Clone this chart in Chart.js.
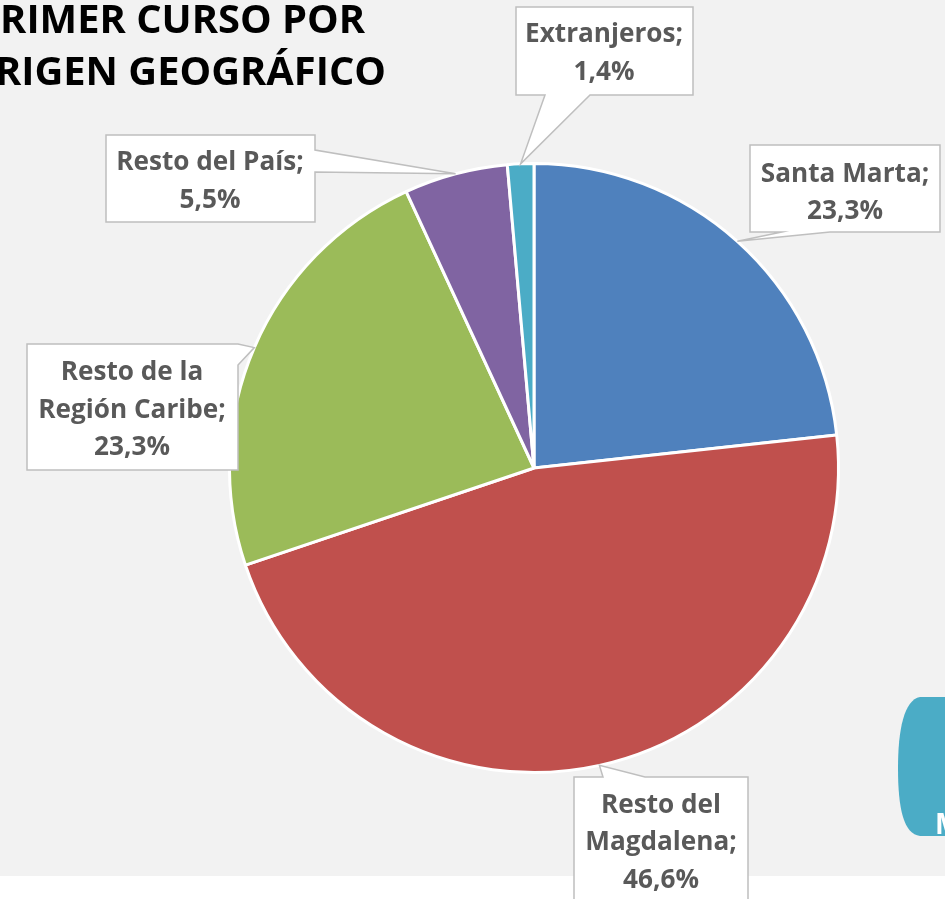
<!DOCTYPE html>
<html><head><meta charset="utf-8">
<script src="https://cdn.jsdelivr.net/npm/chart.js@4/dist/chart.umd.min.js"></script>
<style>html,body{margin:0;padding:0;background:#fff;overflow:hidden}
#wrap{position:relative;width:945px;height:899px}
canvas{position:absolute;left:0;top:0}</style></head>
<body><div id="wrap"><canvas id="c" width="945" height="899"></canvas></div>
<script>
const categories = ['Santa Marta', 'Resto del Magdalena', 'Resto de la Región Caribe', 'Resto del País', 'Extranjeros'];
const labelLines = [['Santa Marta;'], ['Resto del', 'Magdalena;'], ['Resto de la', 'Región Caribe;'], ['Resto del País;'], ['Extranjeros;']];
const shares = [23.3, 46.6, 23.3, 5.5, 1.4];
const titleLines = ['PRIMER CURSO POR', 'ORIGEN GEOGRÁFICO'];
const sideTag = 'M';
const colors = ['#4F81BD', '#C0504D', '#9BBB59', '#8064A2', '#4BACC6'];

// callout layout (box, wedge side and base, text centre and baselines)
const callouts = [
  {box:[750,145,190,87], side:'bottom', a:782, b:830, cx:845, base:[182,219]},
  {box:[574,777,174,135], side:'top', a:603, b:645, cx:661, base:[813,850,888]},
  {box:[27,344,211,126], side:'right', a:344, b:365, cx:132, base:[380,418,455]},
  {box:[106,135,209,87], side:'right', a:150, b:172, cx:210, base:[170,208]},
  {box:[516,7,177,88], side:'bottom', a:545, b:590, cx:604, base:[42,80]}
];

const fmt = v => v.toFixed(1).replace('.', ',') + '%';
const FONT = '"Open Sans", Lato, "DejaVu Sans", sans-serif';

function fitSize(ctx, text, target, weight) {
  ctx.font = weight + ' 100px ' + FONT;
  return 100 * target / ctx.measureText(text).width;
}

const deco = {
  id: 'deco',
  beforeDraw(chart) {
    const ctx = chart.ctx;
    ctx.save();
    ctx.fillStyle = '#f2f2f2';
    ctx.fillRect(0, 0, 945, 876);
    // title (cut on the left as in the reference)
    const ts = fitSize(ctx, titleLines[0].slice(1), 365, 'bold');
    ctx.font = 'bold ' + ts + 'px ' + FONT;
    ctx.fillStyle = '#000';
    ctx.textAlign = 'right';
    ctx.textBaseline = 'alphabetic';
    ctx.fillText(titleLines[0], 365, 33);
    ctx.fillText(titleLines[1], 386, 85);
    // teal side shape
    ctx.fillStyle = '#4BACC6';
    ctx.beginPath();
    ctx.moveTo(970, 697);
    ctx.lineTo(920, 697);
    ctx.bezierCurveTo(904, 700, 898, 730, 898, 768);
    ctx.bezierCurveTo(898, 810, 904, 834, 920, 836);
    ctx.lineTo(970, 836);
    ctx.closePath();
    ctx.fill();
    ctx.fillStyle = '#fff';
    ctx.textAlign = 'left';
    ctx.font = 'bold 28px ' + FONT;
    ctx.fillText(sideTag, 935, 834);
    ctx.restore();
  },
  afterDraw(chart) {
    const ctx = chart.ctx;
    const meta = chart.getDatasetMeta(0);
    ctx.save();
    const ls = fitSize(ctx, 'Extranjeros;', 158, 'bold');
    meta.data.forEach((arc, i) => {
      const c = callouts[i];
      const p = arc.getProps(['x', 'y', 'startAngle', 'endAngle', 'outerRadius'], true);
      const mid = (p.startAngle + p.endAngle) / 2;
      const tx = p.x + Math.cos(mid) * p.outerRadius;
      const ty = p.y + Math.sin(mid) * p.outerRadius;
      const [x, y, w, h] = c.box;
      const r = x + w, bt = y + h;
      ctx.beginPath();
      ctx.moveTo(x, y);
      if (c.side === 'top') { ctx.lineTo(c.a, y); ctx.lineTo(tx, ty); ctx.lineTo(c.b, y); }
      ctx.lineTo(r, y);
      if (c.side === 'right') { ctx.lineTo(r, c.a); ctx.lineTo(tx, ty); ctx.lineTo(r, c.b); }
      ctx.lineTo(r, bt);
      if (c.side === 'bottom') { ctx.lineTo(c.b, bt); ctx.lineTo(tx, ty); ctx.lineTo(c.a, bt); }
      ctx.lineTo(x, bt);
      ctx.closePath();
      ctx.fillStyle = '#ffffff';
      ctx.fill();
      ctx.strokeStyle = '#bfbfbf';
      ctx.lineWidth = 1.5;
      ctx.stroke();
      const lines = labelLines[i].concat([fmt(shares[i])]);
      ctx.fillStyle = '#595959';
      ctx.font = 'bold ' + ls + 'px ' + FONT;
      ctx.textAlign = 'center';
      ctx.textBaseline = 'alphabetic';
      lines.forEach((t, k) => ctx.fillText(t, c.cx, c.base[k]));
    });
    ctx.restore();
  }
};

new Chart(document.getElementById('c'), {
  type: 'pie',
  data: {
    labels: categories,
    datasets: [{
      data: shares,
      backgroundColor: colors,
      borderColor: '#ffffff',
      borderWidth: 3,
      hoverOffset: 0
    }]
  },
  options: {
    responsive: false,
    devicePixelRatio: 1,
    animation: false,
    rotation: 0,
    layout: { padding: { left: 228, right: 105, top: 162, bottom: 125 } },
    plugins: { legend: { display: false }, tooltip: { enabled: false }, title: { display: false } },
    events: []
  },
  plugins: [deco]
});
</script>
</body></html>
